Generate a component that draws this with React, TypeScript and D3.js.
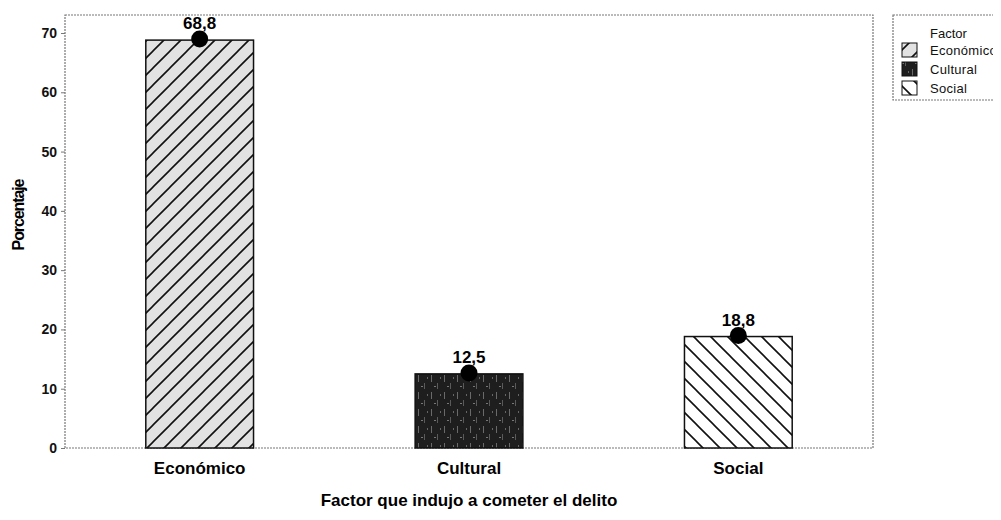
import React, { useEffect, useRef } from 'react'
import * as d3 from 'd3'

const categories = ['Económico', 'Cultural', 'Social']
const percentages = [68.8, 12.5, 18.8]
const valueLabels = ['68,8', '12,5', '18,8']
const yTicks = [0, 10, 20, 30, 40, 50, 60, 70]
const patternIds = ['pat-eco', 'pat-cul', 'pat-soc']

const FONT = 'Liberation Sans, Arial, sans-serif'

export default function App() {
  const ref = useRef<SVGSVGElement>(null)

  useEffect(() => {
    const svg = d3.select(ref.current)
    svg.selectAll('*').remove()

    const width = 1001, height = 520
    // plot frame
    const left = 65, right = 873, top = 15, bottom = 448

    const x = d3.scaleBand().domain(categories).range([left, right]).paddingInner(0.6).paddingOuter(0.3)
    const y = d3.scaleLinear().domain([0, 70 * (bottom - top) / 415]).range([bottom, top])

    const defs = svg.append('defs')

    // económico: grey stipple with / hatch
    const eco = defs.append('pattern').attr('id', 'pat-eco').attr('patternUnits', 'userSpaceOnUse')
      .attr('width', 17).attr('height', 17)
    eco.append('rect').attr('width', 17).attr('height', 17).attr('fill', '#e2e2e2')
    eco.append('path').attr('d', 'M0,17 L17,0 M-4,4 L4,-4 M13,21 L21,13').attr('stroke', '#111').attr('stroke-width', 1.6)

    // cultural: near black noisy texture
    const cul = defs.append('pattern').attr('id', 'pat-cul').attr('patternUnits', 'userSpaceOnUse')
      .attr('width', 13).attr('height', 17)
    cul.append('rect').attr('width', 13).attr('height', 17).attr('fill', '#1e1e1e')
    cul.append('rect').attr('x', 2).attr('y', 1).attr('width', 1).attr('height', 7).attr('fill', '#6a6a6a')
    cul.append('rect').attr('x', 8).attr('y', 9).attr('width', 1).attr('height', 6).attr('fill', '#5a5a5a')
    cul.append('rect').attr('x', 5).attr('y', 12).attr('width', 2).attr('height', 1).attr('fill', '#777')
    cul.append('rect').attr('x', 11).attr('y', 3).attr('width', 1).attr('height', 2).attr('fill', '#666')

    // social: white with \ hatch
    const soc = defs.append('pattern').attr('id', 'pat-soc').attr('patternUnits', 'userSpaceOnUse')
      .attr('width', 17).attr('height', 17)
    soc.append('rect').attr('width', 17).attr('height', 17).attr('fill', '#fff')
    soc.append('path').attr('d', 'M0,0 L17,17 M-4,13 L4,21 M13,-4 L21,4').attr('stroke', '#111').attr('stroke-width', 1.6)

    svg.attr('width', width).attr('height', height)

    // frame
    svg.append('rect')
      .attr('x', left).attr('y', top).attr('width', right - left).attr('height', bottom - top)
      .attr('fill', 'none').attr('stroke', '#777').attr('stroke-width', 1.2).attr('stroke-dasharray', '2,1')

    // y axis
    const yAxis = svg.append('g').attr('transform', 'translate(' + left + ',0)')
      .call(d3.axisLeft(y).tickValues(yTicks).tickSize(4).tickPadding(4))
    yAxis.select('.domain').remove()
    yAxis.selectAll('line').attr('stroke', '#777')
    yAxis.selectAll('text').attr('font-family', FONT).attr('font-weight', 'bold')
      .attr('font-size', 14).attr('fill', '#111')

    svg.append('text')
      .attr('transform', 'rotate(-90)')
      .attr('x', -215).attr('y', 24)
      .attr('text-anchor', 'middle')
      .attr('font-family', FONT).attr('font-weight', 'bold').attr('font-size', 16)
      .attr('letter-spacing', -1.1)
      .text('Porcentaje')

    // bars
    svg.selectAll('.bar').data(percentages).enter().append('rect')
      .attr('x', (d, i) => x(categories[i])!)
      .attr('y', d => y(d))
      .attr('width', x.bandwidth())
      .attr('height', d => bottom - y(d))
      .attr('fill', (d, i) => 'url(#' + patternIds[i] + ')')
      .attr('stroke', '#111').attr('stroke-width', 1.5)

    // dots
    svg.selectAll('.dot').data(percentages).enter().append('circle')
      .attr('cx', (d, i) => x(categories[i])! + x.bandwidth() / 2)
      .attr('cy', d => y(d) - 1)
      .attr('r', 8.5).attr('fill', '#000')

    // value labels
    svg.selectAll('.lbl').data(percentages).enter().append('text')
      .attr('x', (d, i) => x(categories[i])! + x.bandwidth() / 2)
      .attr('y', d => y(d) - 11)
      .attr('text-anchor', 'middle')
      .attr('font-family', FONT).attr('font-weight', 'bold').attr('font-size', 17)
      .text((d, i) => valueLabels[i])

    // category labels
    svg.selectAll('.cat').data(categories).enter().append('text')
      .attr('x', d => x(d)! + x.bandwidth() / 2)
      .attr('y', 474)
      .attr('text-anchor', 'middle')
      .attr('font-family', FONT).attr('font-weight', 'bold').attr('font-size', 17)
      .text(d => d)

    svg.append('text')
      .attr('x', (left + right) / 2).attr('y', 506)
      .attr('text-anchor', 'middle')
      .attr('font-family', FONT).attr('font-weight', 'bold').attr('font-size', 17)
      .text('Factor que indujo a cometer el delito')

    // legend
    const lg = svg.append('g')
    lg.append('rect').attr('x', 893).attr('y', 15).attr('width', 120).attr('height', 85)
      .attr('fill', '#fff').attr('stroke', '#777').attr('stroke-width', 1.2).attr('stroke-dasharray', '2,1')
    lg.append('text').attr('x', 930).attr('y', 38)
      .attr('font-family', FONT).attr('font-size', 13).attr('fill', '#111')
      .text('Factor')
    categories.forEach((c, i) => {
      const yy = 43 + i * 19
      lg.append('rect').attr('x', 902).attr('y', yy).attr('width', 15).attr('height', 14)
        .attr('fill', 'url(#' + patternIds[i] + ')').attr('stroke', '#111').attr('stroke-width', 1)
      lg.append('text').attr('x', 930).attr('y', yy + 12)
        .attr('font-family', FONT).attr('font-size', 13).attr('fill', '#111')
        .attr('letter-spacing', 0.3)
        .text(c)
    })
  }, [])

  return (
    <div style={{ margin: -8 }}>
      <svg ref={ref} style={{ display: 'block' }}></svg>
    </div>
  )
}
